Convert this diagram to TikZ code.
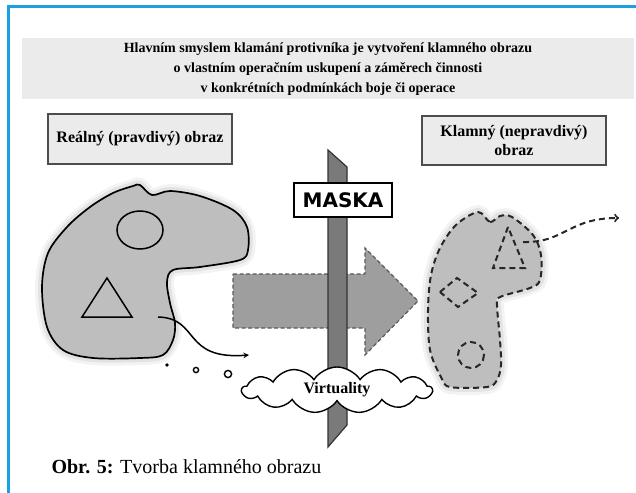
\documentclass[tikz,border=0pt]{standalone}
\usepackage{fontspec}
\setmainfont{Liberation Serif}
\newfontfamily\signfont{DejaVu Sans}
\usepackage{tikz}
\usepackage{xcolor}
\definecolor{frame_blue}{HTML}{1BA1E2}
\definecolor{band_gray}{HTML}{EBEBEB}
\definecolor{blob_gray}{HTML}{BEBEBE}
\definecolor{arrow_gray}{HTML}{9E9E9E}
\definecolor{pole_gray}{HTML}{7A7A7A}
\usetikzlibrary{arrows, shapes.symbols}

\begin{document}
\begin{tikzpicture}[x=1pt,y=-1pt,
    labelbox/.style={draw=black!70,line width=1.6pt,fill=band_gray,align=center,
        font=\bfseries\fontsize{16}{19}\selectfont,inner sep=0pt},
    glow/.style={preaction={draw=black!40,line width=14pt,opacity=.12},
        preaction={draw=black!40,line width=8pt,opacity=.18}},
    dashline/.style={draw=black!85,line width=2pt,dash pattern=on 6pt off 4pt}]
    \useasboundingbox (0,0) rectangle (636,492);
    \draw[frame_blue,line width=3pt] (8,500)--(8,7)--(640,7); %ramecek
    %nadpis
    \node[fill=band_gray,minimum width=612,minimum height=61,align=center,
        font=\bfseries\fontsize{14}{20}\selectfont] (title) at (328,69)
        {Hlavním smyslem klamání protivníka je vytvoření klamného obrazu\\
         o vlastním operačním uskupení a záměrech činnosti\\
         v konkrétních podmínkách boje či operace};
    \node[labelbox,minimum width=184,minimum height=50] (real) at (140,139) {Reálný (pravdivý) obraz};
    \node[labelbox,minimum width=184,minimum height=49] (fake) at (514,140.5) {Klamný (nepravdivý)\\obraz};
    %realny obraz
    \draw[glow,fill=blob_gray,line width=1.7pt] plot[smooth cycle,tension=0.55] coordinates{
        (140,185) (152,195) (170,191) (200,196) (233,210) (247,227) (248,250) (240,260)
        (200,267) (173,270) (167,282) (170,303) (175,323) (173,340) (163,355) (140,358)
        (93,358) (63,350) (47,327) (42,287) (48,253) (67,227) (90,207) (113,193) (133,186)};
    \draw[line width=1.5pt] (140,230) ellipse (23 and 19);
    \draw[line width=1.5pt] (107,278)--(82,317)--(132,317)--cycle;
    \coordinate (realStart) at (158,317);
    \coordinate (realEnd) at (249,355);
    \draw[->,>=stealth,line width=1.5pt] (realStart) .. controls (200,318) and (182,360) .. (realEnd);
    \fill (167,365) circle (1.8);
    \draw[line width=1.4pt] (196,370) circle (2.6);
    \draw[line width=1.4pt] (228,374) circle (3.6);
    %klamny obraz
    \path[glow,fill=blob_gray] plot[smooth cycle,tension=0.55] coordinates{
        (478,212) (490,222) (500,216) (512,217) (533,235) (541,255) (540,280) (530,288)
        (500,297) (497,305) (500,340) (501,365) (497,380) (487,387) (450,387) (441,377)
        (430,350) (428,310) (431,275) (440,248) (456,225)};
    \draw[dashline] plot[smooth cycle,tension=0.55] coordinates{
        (478,212) (490,222) (500,216) (512,217) (533,235) (541,255) (540,280) (530,288)
        (500,297) (497,305) (500,340) (501,365) (497,380) (487,387) (450,387) (441,377)
        (430,350) (428,310) (431,275) (440,248) (456,225)};
    \draw[dashline] (508,227)--(493,268)--(525,268)--cycle;
    \draw[dashline] (440,292)--(457,278)--(478,293)--(458,307)--cycle;
    \draw[dashline] (471,355) circle (13);
    \coordinate (fakeStart) at (523,242);
    \coordinate (fakeEnd) at (619,218);
    \draw[dashline,->] (fakeStart) .. controls (565,243) and (568,218) .. (fakeEnd);
    %sipka a maska
    \draw[dashline,draw=black!65,line width=1.2pt,dash pattern=on 4pt off 2.5pt,fill=arrow_gray]
        (233,274)--(365,274)--(365,248)--(418,301)--(365,355)--(365,328)--(233,328)--cycle;
    \draw[fill=pole_gray,draw=black!80,line width=1.2pt] (328,150)--(347,167)--(347,425)--(328,447)--cycle;
    \node[draw,line width=2.2pt,fill=white,minimum width=98,minimum height=34,
        font=\signfont\bfseries\fontsize{20}{20}\selectfont] (mask) at (343,200) {MASKA};
    \node[cloud,cloud puffs=13,cloud puff arc=115,aspect=4,draw,line width=1.4pt,fill=white,
        minimum width=190,minimum height=46,inner sep=1pt,
        font=\bfseries\fontsize{16}{16}\selectfont] (virt) at (337,390) {Virtuality};
    %popisek
    \node[anchor=west,font=\fontsize{20}{20}\selectfont] (caption) at (48,467) {\textbf{Obr. 5:} Tvorba klamného obrazu};
\end{tikzpicture}
\end{document}
